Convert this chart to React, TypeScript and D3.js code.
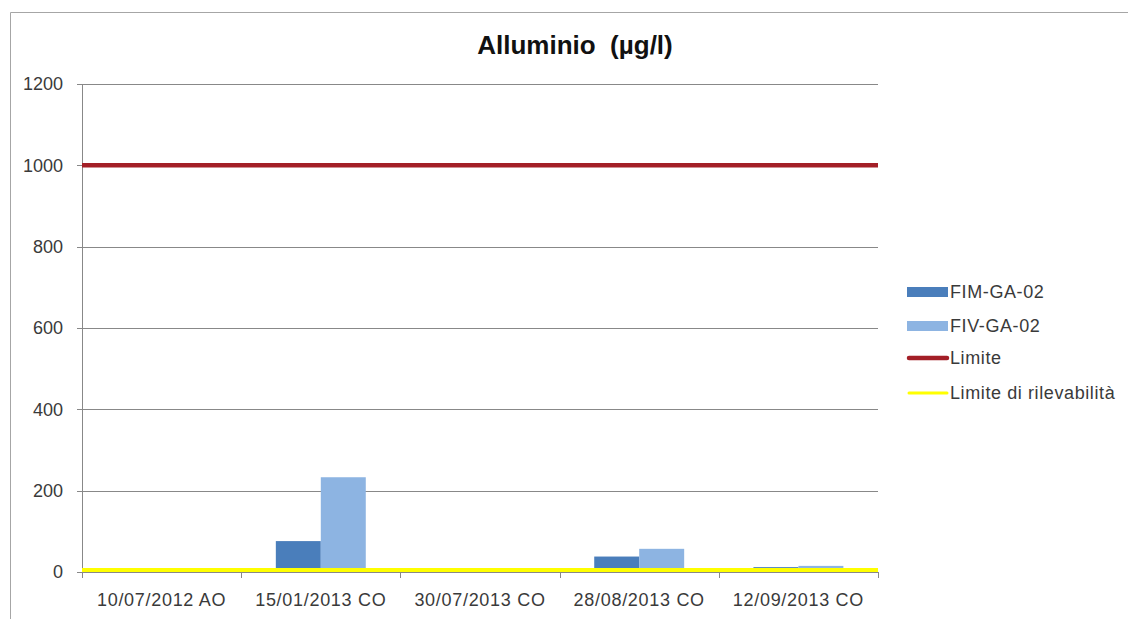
import React, { useEffect, useRef } from 'react';
import * as d3 from 'd3';

// dati
const categories = ['10/07/2012 AO', '15/01/2013 CO', '30/07/2013 CO', '28/08/2013 CO', '12/09/2013 CO'];
const fimValues = [0, 76, 0, 38, 12];
const fivValues = [0, 233, 0, 57, 15];
const limite = 1000;
const limiteRilevabilita = 5;
const yTicks = [0, 200, 400, 600, 800, 1000, 1200];
const seriesNames = ['FIM-GA-02', 'FIV-GA-02'];
const seriesColors = ['#4a7ebb', '#8db4e2'];

export default function App() {
    const ref = useRef<SVGSVGElement>(null);

    useEffect(() => {
        const width = 1128, height = 619,
            margin = { top: 84, right: 250, bottom: 47, left: 82 },
            font = 'Arial, "Liberation Sans", sans-serif';

        const svg = d3.select(ref.current);
        svg.selectAll('*').remove();
        svg.attr('width', width).attr('height', height);

        // cornice del grafico
        svg.append('path')
            .attr('d', `M10.5,${height}V12.5H${width}`)
            .attr('fill', 'none')
            .attr('stroke', '#a6a6a6');

        const x = d3.scaleBand().domain(categories).range([margin.left, width - margin.right]);
        const x1 = d3.scaleBand().domain(seriesNames).range([0, x.bandwidth()]).paddingInner(0).paddingOuter(0.77);
        const y = d3.scaleLinear().domain([0, 1200]).range([height - margin.bottom, margin.top]);

        // griglia orizzontale
        svg.append('g')
            .selectAll('line')
            .data(yTicks.filter(d => d > 0))
            .enter().append('line')
            .attr('x1', margin.left - 5).attr('x2', width - margin.right)
            .attr('y1', d => Math.round(y(d)) + 0.5).attr('y2', d => Math.round(y(d)) + 0.5)
            .attr('stroke', '#888');

        // etichette asse y
        svg.append('g')
            .selectAll('text')
            .data(yTicks)
            .enter().append('text')
            .attr('x', margin.left - 19)
            .attr('y', d => y(d))
            .attr('dy', '0.35em')
            .attr('text-anchor', 'end')
            .attr('font-family', font)
            .attr('font-size', 18)
            .attr('fill', '#3a3a3a')
            .text(d => d);

        // barre
        const bars = svg.append('g');
        seriesNames.forEach((name, si) => {
            const vals = si === 0 ? fimValues : fivValues;
            bars.append('g')
                .selectAll('rect')
                .data(categories.map((c, i) => ({ c, v: vals[i] })))
                .enter().append('rect')
                .attr('x', d => (x(d.c) as number) + (x1(name) as number))
                .attr('width', x1.bandwidth())
                .attr('y', d => y(d.v))
                .attr('height', d => y(0) - y(d.v))
                .attr('fill', seriesColors[si]);
        });

        // asse y e asse x
        svg.append('line')
            .attr('x1', margin.left + 0.5).attr('x2', margin.left + 0.5)
            .attr('y1', y(1200)).attr('y2', y(0))
            .attr('stroke', '#888');
        svg.append('line')
            .attr('x1', margin.left - 5).attr('x2', width - margin.right)
            .attr('y1', y(0) + 0.5).attr('y2', y(0) + 0.5)
            .attr('stroke', '#888');
        svg.append('g')
            .selectAll('line')
            .data(categories.map(c => x(c) as number).concat([width - margin.right]))
            .enter().append('line')
            .attr('x1', d => Math.round(d) + 0.5).attr('x2', d => Math.round(d) + 0.5)
            .attr('y1', y(0)).attr('y2', y(0) + 6)
            .attr('stroke', '#888');

        svg.append('g')
            .selectAll('text')
            .data(categories)
            .enter().append('text')
            .attr('x', d => (x(d) as number) + x.bandwidth() / 2)
            .attr('y', y(0) + 34)
            .attr('text-anchor', 'middle')
            .attr('font-family', font)
            .attr('font-size', 18)
            .attr('letter-spacing', 0.7)
            .attr('fill', '#3a3a3a')
            .text(d => d);

        // linee limite
        svg.append('line')
            .attr('x1', margin.left).attr('x2', width - margin.right)
            .attr('y1', y(limite)).attr('y2', y(limite))
            .attr('stroke', '#a31f27').attr('stroke-width', 4.5);
        svg.append('line')
            .attr('x1', margin.left).attr('x2', width - margin.right)
            .attr('y1', y(limiteRilevabilita)).attr('y2', y(limiteRilevabilita))
            .attr('stroke', '#ffff00').attr('stroke-width', 4);

        // titolo
        svg.append('text')
            .attr('x', 575).attr('y', 54)
            .attr('text-anchor', 'middle')
            .attr('font-family', font)
            .attr('font-size', 26)
            .attr('font-weight', 'bold')
            .attr('fill', '#111')
            .attr('xml:space', 'preserve')
            .text('Alluminio  (µg/l)');

        // legenda
        const legendItems = [
            { name: seriesNames[0], type: 'rect', color: seriesColors[0] },
            { name: seriesNames[1], type: 'rect', color: seriesColors[1] },
            { name: 'Limite', type: 'line', color: '#a31f27', w: 4.5 },
            { name: 'Limite di rilevabilità', type: 'line', color: '#ffff00', w: 3 },
        ];
        const legendY = [292, 326, 358, 393];
        const lg = svg.append('g')
            .selectAll('g')
            .data(legendItems)
            .enter().append('g')
            .attr('transform', (d, i) => `translate(907,${legendY[i]})`);
        lg.filter(d => d.type === 'rect').append('rect')
            .attr('x', 0).attr('y', -5).attr('width', 41).attr('height', 10)
            .attr('fill', d => d.color);
        lg.filter(d => d.type === 'line').append('line')
            .attr('x1', 2).attr('x2', 40).attr('y1', 0).attr('y2', 0)
            .attr('stroke', d => d.color)
            .attr('stroke-width', d => d.w as number)
            .attr('stroke-linecap', 'round');
        lg.append('text')
            .attr('x', 43)
            .attr('dy', '0.35em')
            .attr('font-family', font)
            .attr('font-size', 18)
            .attr('letter-spacing', 0.6)
            .attr('fill', '#3a3a3a')
            .text(d => d.name);
    }, []);

    return (
        <svg ref={ref} style={{ position: 'absolute', left: 0, top: 0 }} />
    );
}
